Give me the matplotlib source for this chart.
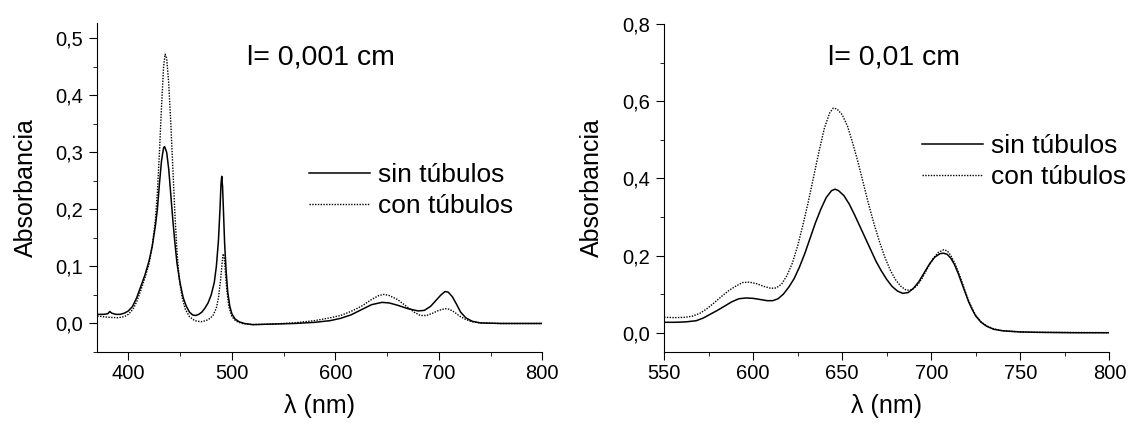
import matplotlib
matplotlib.use("Agg")
import matplotlib.pyplot as plt
from matplotlib.ticker import MultipleLocator, FuncFormatter

plt.rcParams["font.family"] = ["Liberation Sans", "DejaVu Sans"]

# left panel, l = 0,001 cm
wl_sin_a = [370, 376, 380, 382, 384, 388, 392, 396, 400, 404, 408, 412, 416, 420, 423, 426, 428,
            430, 432, 434, 435, 437, 439, 441, 443, 445, 447, 450, 453, 456, 459, 462, 465, 468,
            471, 474, 477, 480, 483, 485, 487, 488.5, 489.5, 490.2, 491, 492, 493, 494.5, 496,
            498, 500, 503, 507, 512, 520, 540, 560, 580, 595, 605, 615, 625, 635, 645, 652, 660,
            670, 680, 686, 692, 697, 702, 706, 709, 713, 717, 721, 726, 732, 740, 760, 800]
sin_a = [0.016, 0.016, 0.017, 0.021, 0.018, 0.016, 0.016, 0.018, 0.022, 0.03, 0.045, 0.065,
         0.085, 0.11, 0.135, 0.17, 0.2, 0.245, 0.285, 0.308, 0.31, 0.3, 0.27, 0.225, 0.18, 0.14,
         0.105, 0.07, 0.045, 0.03, 0.02, 0.015, 0.014, 0.016, 0.02, 0.027, 0.036, 0.05, 0.072,
         0.1, 0.145, 0.2, 0.245, 0.258, 0.24, 0.19, 0.14, 0.09, 0.055, 0.03, 0.017, 0.008,
         0.003, 0.0, -0.002, -0.001, 0.0, 0.002, 0.005, 0.009, 0.015, 0.024, 0.033, 0.037,
         0.036, 0.032, 0.026, 0.022, 0.023, 0.03, 0.04, 0.05, 0.056, 0.055, 0.047, 0.034, 0.02,
         0.01, 0.004, 0.001, 0.0, 0.0]

wl_con_a = [370, 380, 390, 396, 400, 404, 408, 412, 416, 420, 423, 426, 428, 430, 432, 434,
            435.5, 437, 439, 441, 443, 445, 447, 449, 452, 455, 459, 464, 470, 475, 479, 482,
            485, 487, 489, 490.5, 491.5, 492.5, 493.5, 495, 497, 500, 504, 510, 520, 540, 560,
            580, 595, 605, 615, 625, 635, 642, 647, 652, 660, 668, 676, 682, 688, 694, 700, 706,
            710, 715, 720, 726, 732, 740, 760, 800]
con_a = [0.013, 0.011, 0.01, 0.012, 0.016, 0.024, 0.038, 0.058, 0.08, 0.105, 0.135, 0.18, 0.23,
         0.3, 0.38, 0.45, 0.472, 0.465, 0.42, 0.35, 0.27, 0.19, 0.125, 0.08, 0.045, 0.025,
         0.012, 0.005, 0.003, 0.005, 0.009, 0.015, 0.027, 0.045, 0.075, 0.105, 0.122, 0.118,
         0.095, 0.06, 0.03, 0.012, 0.004, 0.0, -0.002, -0.001, 0.001, 0.005, 0.01, 0.014,
         0.021, 0.03, 0.042, 0.049, 0.051, 0.049, 0.042, 0.031, 0.02, 0.014, 0.014, 0.018,
         0.023, 0.026, 0.025, 0.02, 0.013, 0.007, 0.003, 0.001, 0.0, 0.0]

# right panel, l = 0,01 cm
wl_sin_b = [550, 556, 562, 568, 572, 576, 580, 584, 588, 592, 596, 600, 604, 608, 611, 614, 617,
            620, 623, 626, 629, 632, 635, 638, 641, 644, 646, 648, 651, 654, 657, 660, 663, 666,
            669, 672, 675, 678, 681, 684, 687, 690, 693, 696, 699, 702, 705, 707, 709, 711, 713,
            715, 717, 719, 721, 723, 725, 728, 731, 735, 740, 750, 760, 780, 800]
sin_b = [0.027, 0.027, 0.028, 0.031, 0.038, 0.048, 0.058, 0.069, 0.08, 0.088, 0.09, 0.089,
         0.086, 0.083, 0.083, 0.088, 0.1, 0.118, 0.14, 0.17, 0.205, 0.245, 0.285, 0.32, 0.35,
         0.368, 0.372, 0.368, 0.355, 0.333, 0.305, 0.275, 0.245, 0.215, 0.185, 0.16, 0.138,
         0.12, 0.108, 0.102, 0.104, 0.115, 0.132, 0.155, 0.178, 0.196, 0.205, 0.206, 0.203,
         0.193, 0.177, 0.155, 0.13, 0.105, 0.08, 0.06, 0.043, 0.027, 0.017, 0.009, 0.005,
         0.002, 0.001, 0.0, 0.0]

wl_con_b = [550, 556, 562, 566, 570, 574, 578, 582, 586, 590, 594, 598, 602, 606, 610, 613, 616,
            619, 622, 625, 628, 631, 634, 637, 640, 643, 645, 647, 650, 653, 656, 659, 662, 665,
            668, 671, 674, 677, 680, 683, 686, 689, 692, 695, 698, 701, 704, 707, 709, 711, 713,
            715, 717, 719, 721, 723, 725, 728, 731, 735, 740, 750, 760, 800]
con_b = [0.04, 0.039, 0.04, 0.043, 0.05, 0.062, 0.077, 0.093, 0.108, 0.12, 0.13, 0.131, 0.127,
         0.12, 0.115, 0.116, 0.126, 0.148, 0.18, 0.225, 0.28, 0.34, 0.405, 0.47, 0.53, 0.57,
         0.582, 0.58, 0.565, 0.535, 0.49, 0.44, 0.385, 0.33, 0.28, 0.235, 0.195, 0.162, 0.137,
         0.12, 0.11, 0.111, 0.122, 0.142, 0.168, 0.192, 0.208, 0.215, 0.212, 0.2, 0.182, 0.16,
         0.135, 0.108, 0.083, 0.062, 0.045, 0.028, 0.018, 0.01, 0.005, 0.002, 0.001, 0.0]

comma = FuncFormatter(lambda v, pos: f"{v:.1f}".replace(".", ","))
DOT = (0, (1, 1))


def style_axis(ax):
    ax.spines["top"].set_visible(False)
    ax.spines["right"].set_visible(False)
    ax.tick_params(which="both", direction="out", labelsize=14.5)
    ax.tick_params(which="major", length=6)
    ax.tick_params(which="minor", length=3)
    ax.tick_params(axis="x", which="both", pad=2.5)
    ax.tick_params(axis="y", which="both", pad=4)
    ax.yaxis.set_major_formatter(comma)
    ax.set_xlabel("λ (nm)", fontsize=18, labelpad=8)
    ax.set_ylabel("Absorbancia", fontsize=18, labelpad=13)


def add_legend(ax, anchor):
    ax.legend(loc="upper left", bbox_to_anchor=anchor, frameon=False, fontsize=19,
              handlelength=2.3, handletextpad=0.3, labelspacing=0.28, borderaxespad=0,
              borderpad=0)


fig = plt.figure(figsize=(11.28, 4.24), dpi=100)
ax1 = fig.add_axes([0.0863, 0.1698, 0.3945, 0.775])
ax2 = fig.add_axes([0.5887, 0.1698, 0.3948, 0.7736])

ax1.plot(wl_sin_a, sin_a, color="black", lw=1.1, label="sin túbulos")
ax1.plot(wl_con_a, con_a, color="black", lw=1.0, ls=DOT, label="con túbulos")
ax1.set_xlim(370, 800)
ax1.set_ylim(-0.05, 0.526)
ax1.xaxis.set_major_locator(MultipleLocator(100))
ax1.xaxis.set_minor_locator(MultipleLocator(50))
ax1.yaxis.set_major_locator(MultipleLocator(0.1))
ax1.yaxis.set_minor_locator(MultipleLocator(0.05))
style_axis(ax1)
ax1.text(0.503, 0.897, "l= 0,001 cm", transform=ax1.transAxes, ha="center", va="center",
         fontsize=20.5)
add_legend(ax1, (0.476, 0.575))

ax2.plot(wl_sin_b, sin_b, color="black", lw=1.1, label="sin túbulos")
ax2.plot(wl_con_b, con_b, color="black", lw=1.0, ls=DOT, label="con túbulos")
ax2.set_xlim(550, 800)
ax2.set_ylim(-0.05, 0.8)
ax2.xaxis.set_major_locator(MultipleLocator(50))
ax2.xaxis.set_minor_locator(MultipleLocator(25))
ax2.yaxis.set_major_locator(MultipleLocator(0.2))
ax2.yaxis.set_minor_locator(MultipleLocator(0.1))
style_axis(ax2)
ax2.text(0.516, 0.897, "l= 0,01 cm", transform=ax2.transAxes, ha="center", va="center",
         fontsize=20.5)
add_legend(ax2, (0.579, 0.665))

fig.savefig("out.png", dpi=100)
